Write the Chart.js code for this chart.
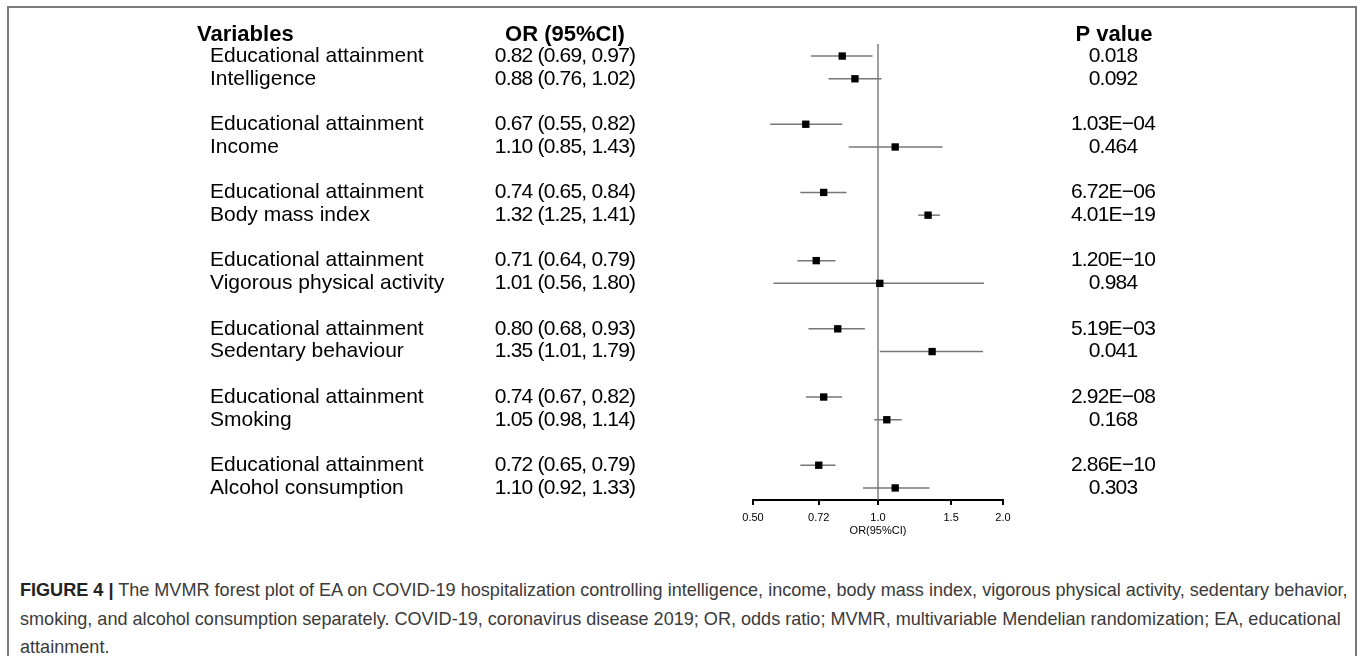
<!DOCTYPE html>
<html>
<head>
<meta charset="utf-8">
<script src="https://cdn.jsdelivr.net/npm/chart.js@4/dist/chart.umd.min.js"></script>
<style>
  html, body { margin: 0; padding: 0; background: #fff; }
  body { width: 1357px; height: 656px; position: relative; overflow: hidden; }
  .frame {
    position: absolute; left: 7px; top: 6px; width: 1346px; height: 720px;
    border: 2px solid #7a7a7a; border-bottom: none;
  }
  #chart { position: absolute; left: 0; top: 0; }
  .caption {
    position: absolute; left: 20px; top: 576px;
    font-family: "Liberation Sans", Arial, sans-serif;
    font-size: 19px; line-height: 28.5px; color: #3a3a3a; white-space: nowrap;
    transform: scaleX(0.85); transform-origin: 0 0;
  }
  .caption b { color: #222; }
</style>
</head>
<body>
<div class="frame"></div>
<canvas id="chart" width="1357" height="560"></canvas>
<div class="caption" id="caption">
  <b>FIGURE 4 |</b> The MVMR forest plot of EA on COVID-19 hospitalization controlling intelligence, income, body mass index, vigorous physical activity, sedentary behavior,<br>
  smoking, and alcohol consumption separately. COVID-19, coronavirus disease 2019; OR, odds ratio; MVMR, multivariable Mendelian randomization; EA, educational<br>
  attainment.
</div>
<script>
// data
const variables = [
  'Educational attainment', 'Intelligence',
  'Educational attainment', 'Income',
  'Educational attainment', 'Body mass index',
  'Educational attainment', 'Vigorous physical activity',
  'Educational attainment', 'Sedentary behaviour',
  'Educational attainment', 'Smoking',
  'Educational attainment', 'Alcohol consumption'
];
const oddsRatios = [0.82, 0.88, 0.67, 1.10, 0.74, 1.32, 0.71, 1.01, 0.80, 1.35, 0.74, 1.05, 0.72, 1.10];
const lowerCI    = [0.69, 0.76, 0.55, 0.85, 0.65, 1.25, 0.64, 0.56, 0.68, 1.01, 0.67, 0.98, 0.65, 0.92];
const upperCI    = [0.97, 1.02, 0.82, 1.43, 0.84, 1.41, 0.79, 1.80, 0.93, 1.79, 0.82, 1.14, 0.79, 1.33];
const pValues = [
  '0.018', '0.092', '1.03E\u221204', '0.464', '6.72E\u221206', '4.01E\u221219', '1.20E\u221210',
  '0.984', '5.19E\u221203', '0.041', '2.92E\u221208', '0.168', '2.86E\u221210', '0.303'
];
const tickValues = [0.5, 0.72, 1.0, 1.5, 2.0];
const tickLabels = ['0.50', '0.72', '1.0', '1.5', '2.0'];

// two rows per group, blank row between groups
const rowPos = i => Math.floor(i / 2) * 3 + (i % 2);
const yMin = -0.53;
const yMax = rowPos(variables.length - 1) + 0.53;

const FONT = '"Liberation Sans", Arial, sans-serif';

// squeeze the caption so its first line ends where the original does
const cap = document.getElementById('caption');
cap.style.transform = 'scaleX(' + (1327 / cap.scrollWidth).toFixed(4) + ')';

const ciSets = variables.map((v, i) => ({
  type: 'line',
  data: [{ x: lowerCI[i], y: rowPos(i) }, { x: upperCI[i], y: rowPos(i) }],
  borderColor: '#777',
  borderWidth: 1.5,
  pointRadius: 0,
  order: 1
}));

// text columns drawn next to the plot, rows aligned with the y scale
const tablePlugin = {
  id: 'table',
  afterDraw(chart) {
    const ctx = chart.ctx;
    const y = chart.scales.y;
    ctx.save();
    ctx.fillStyle = '#000';
    ctx.textBaseline = 'middle';

    const headY = y.getPixelForValue(-0.92);
    ctx.font = 'bold 22px ' + FONT;
    ctx.textAlign = 'left';
    ctx.fillText('Variables', 197, headY);
    ctx.textAlign = 'center';
    ctx.fillText('OR (95%CI)', 565, headY);
    ctx.fillText('P value', 1114, headY);

    ctx.font = '21px ' + FONT;
    variables.forEach((name, i) => {
      const py = y.getPixelForValue(rowPos(i));
      ctx.letterSpacing = '0px';
      ctx.textAlign = 'left';
      ctx.fillText(name, 210, py);
      ctx.textAlign = 'center';
      ctx.letterSpacing = '-0.8px';
      const txt = oddsRatios[i].toFixed(2) + ' (' + lowerCI[i].toFixed(2) + ', ' + upperCI[i].toFixed(2) + ')';
      ctx.fillText(txt, 565, py);
      ctx.fillText(pValues[i], 1113, py);
    });
    ctx.restore();
  }
};

new Chart(document.getElementById('chart'), {
  type: 'scatter',
  data: {
    datasets: [
      {
        data: oddsRatios.map((v, i) => ({ x: v, y: rowPos(i) })),
        pointStyle: 'rect',
        pointRadius: 5.2,
        pointHoverRadius: 5.2,
        backgroundColor: '#000',
        borderColor: '#000',
        borderWidth: 0,
        order: 0
      },
      ...ciSets,
      {
        type: 'line',
        data: [{ x: 1, y: yMin }, { x: 1, y: yMax }],
        borderColor: '#6e6e6e',
        borderWidth: 1.3,
        pointRadius: 0,
        order: 2
      }
    ]
  },
  options: {
    responsive: false,
    animation: false,
    events: [],
    layout: { padding: { left: 753, right: 354, top: 44, bottom: 18 } },
    plugins: { legend: { display: false }, tooltip: { enabled: false } },
    scales: {
      x: {
        type: 'logarithmic',
        min: 0.5,
        max: 2.0,
        afterBuildTicks: s => { s.ticks = tickValues.map(v => ({ value: v })); },
        afterFit: s => { s.height = 42; },
        border: { display: true, color: '#000', width: 2 },
        grid: { display: true, drawOnChartArea: false, drawTicks: true, tickLength: 5, color: '#000', lineWidth: 2 },
        ticks: {
          autoSkip: false, maxRotation: 0, padding: 6,
          color: '#000', font: { family: FONT, size: 11 },
          callback: (v, i) => tickLabels[i]
        },
        title: { display: true, text: 'OR(95%CI)', color: '#000', font: { family: FONT, size: 11 }, padding: { top: 0, bottom: 4 } }
      },
      y: {
        type: 'linear',
        reverse: true,
        min: yMin,
        max: yMax,
        display: false
      }
    }
  },
  plugins: [tablePlugin]
});
</script>
</body>
</html>
